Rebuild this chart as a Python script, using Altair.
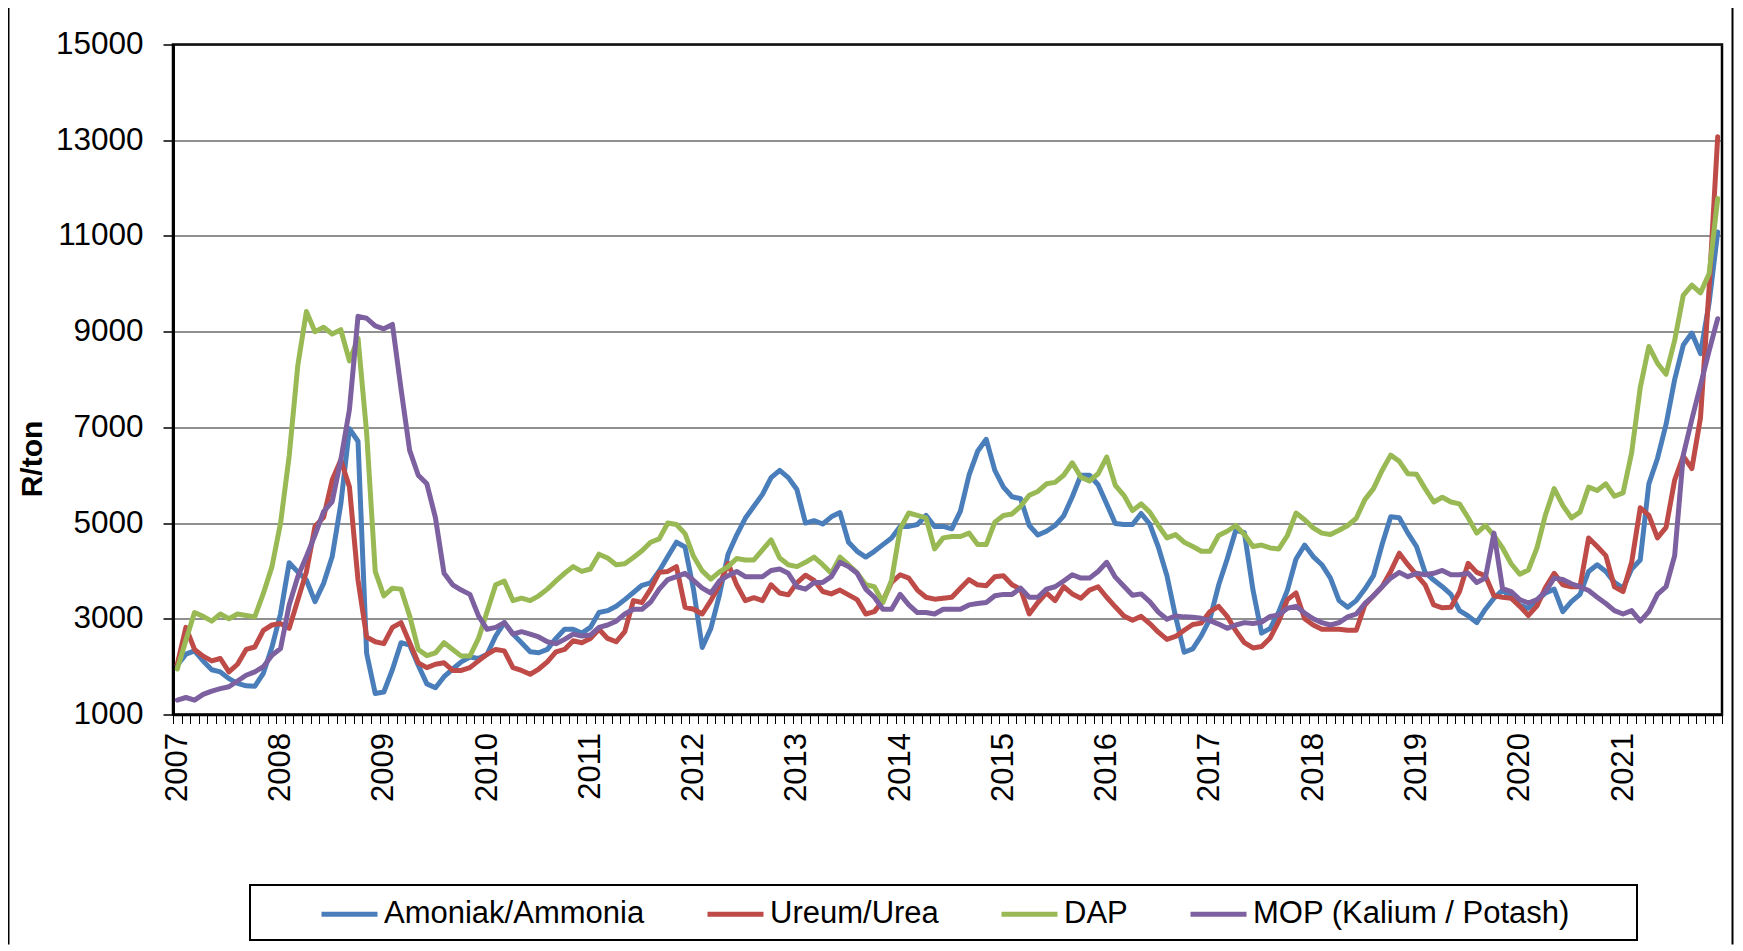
import altair as alt
import pandas as pd

FONT = "Liberation Sans"
start_year = 2007
series_names = ["Amoniak/Ammonia", "Ureum/Urea", "DAP", "MOP (Kalium / Potash)"]
series_colors = ["#4A7EBB", "#BE4B48", "#98B954", "#7D60A0"]
y_ticks = [1000, 3000, 5000, 7000, 9000, 11000, 13000, 15000]

# monthly prices, Jan 2007 .. Dec 2021 (R/ton)
ammonia = [
    2030, 2260, 2330, 2120, 1935, 1890, 1750, 1650, 1600, 1590, 1860, 2410,
    3110, 4170, 3980, 3810, 3360, 3740, 4300, 5400, 6970, 6710, 2280, 1440,
    1470, 1940, 2500, 2450, 2030, 1640, 1560, 1790, 1950, 2100, 2200, 2170,
    2260, 2640, 2920, 2680, 2500, 2310, 2290, 2360, 2590, 2780, 2780, 2700,
    2820, 3130, 3170, 3260, 3400, 3550, 3700, 3750, 4000, 4300, 4600, 4500,
    3600, 2400, 2800, 3500, 4350, 4750, 5100, 5350, 5600, 5950, 6100, 5950,
    5700, 5000, 5050, 4980, 5130, 5220, 4600, 4410, 4290, 4410, 4550, 4690,
    4930, 4930, 4970, 5160, 4930, 4930, 4880, 5250, 6000, 6500, 6750, 6100,
    5750, 5550, 5510, 4950, 4750, 4830, 4950, 5150, 5550, 6000, 6000, 5800,
    5400, 4990, 4970, 4970, 5200, 4980, 4500, 3900, 3050, 2300, 2370, 2650,
    3000, 3700, 4250, 4850, 4800, 3600, 2700, 2800, 3150, 3600, 4250, 4540,
    4300, 4130, 3850, 3380, 3240, 3380, 3620, 3900, 4550, 5130, 5110, 4790,
    4510, 3970, 3810, 3670, 3510, 3170, 3060, 2920, 3200, 3430, 3600, 3440,
    3280, 3220, 3380, 3540, 3620, 3150, 3360, 3510, 3990, 4130, 3990, 3760,
    3640, 4040, 4230, 5820, 6350, 7060, 8000, 8720, 8970, 8540, 9600, 11080,
]
urea = [
    2050, 2820, 2360, 2220, 2120, 2170, 1890, 2050, 2360, 2410, 2760, 2870,
    2900, 2800, 3390, 3980, 4930, 5120, 5900, 6320, 5760, 3810, 2620, 2520,
    2480, 2820, 2920, 2500, 2080, 1980, 2050, 2080, 1920, 1920, 1980, 2120,
    2260, 2360, 2330, 1980, 1920, 1840, 1950, 2100, 2310, 2360, 2540, 2500,
    2590, 2780, 2590, 2520, 2730, 3380, 3340, 3620, 3970, 3990, 4090, 3240,
    3200, 3100, 3380, 3710, 4160, 3710, 3380, 3440, 3380, 3710, 3540, 3500,
    3750, 3910, 3800, 3570, 3520, 3600, 3500, 3400, 3100, 3150, 3380, 3760,
    3920, 3850, 3600, 3450, 3410, 3430, 3450, 3640, 3820, 3710, 3690, 3880,
    3900, 3710, 3620, 3100, 3340, 3540, 3380, 3670, 3520, 3430, 3600, 3670,
    3450, 3250, 3060, 2970, 3050, 2900, 2720, 2570, 2630, 2760, 2880, 2910,
    3150, 3260, 3050, 2750, 2500, 2390, 2420, 2600, 2950, 3400, 3540, 3000,
    2870, 2780, 2780, 2780, 2760, 2760, 3290, 3480, 3670, 3990, 4370, 4130,
    3920, 3710, 3290, 3230, 3240, 3570, 4160, 3970, 3900, 3480, 3450, 3430,
    3260, 3070, 3270, 3660, 3950, 3710, 3670, 3670, 4690, 4510, 4320, 3670,
    3570, 4180, 5320, 5160, 4690, 4910, 5900, 6400, 6140, 7200, 9900, 13070,
]
dap = [
    1950, 2550, 3130, 3050, 2950, 3100, 3000, 3100, 3070, 3040, 3530, 4090,
    5000, 6400, 8290, 9420, 9000, 9090, 8950, 9040, 8390, 8860, 6890, 3990,
    3480, 3640, 3620, 3060, 2360, 2230, 2290, 2500, 2360, 2220, 2220, 2590,
    3150, 3710, 3790, 3380, 3430, 3380, 3480, 3620, 3790, 3950, 4090, 3990,
    4040, 4350, 4270, 4130, 4150, 4280, 4420, 4600, 4670, 5000, 4970, 4780,
    4300, 4000, 3830, 3980, 4090, 4260, 4230, 4230, 4440, 4650, 4270, 4130,
    4090, 4180, 4290, 4130, 3950, 4290, 4130, 3960, 3710, 3670, 3340, 3810,
    4880, 5210, 5160, 5110, 4460, 4690, 4720, 4720, 4790, 4550, 4550, 5020,
    5160, 5190, 5350, 5580, 5660, 5820, 5850, 6000, 6260, 5960, 5880, 6030,
    6380, 5790, 5580, 5260, 5400, 5230, 4950, 4690, 4760, 4600, 4510, 4410,
    4410, 4740, 4830, 4950, 4760, 4510, 4540, 4480, 4460, 4740, 5210, 5070,
    4900, 4790, 4760, 4850, 4950, 5100, 5490, 5720, 6100, 6420, 6290, 6030,
    6020, 5720, 5440, 5540, 5440, 5400, 5110, 4790, 4950, 4740, 4480, 4150,
    3930, 4020, 4480, 5180, 5720, 5370, 5110, 5230, 5750, 5680, 5820, 5560,
    5630, 6470, 7830, 8690, 8340, 8110, 8820, 9760, 9970, 9810, 10210, 11780,
]
mop = [
    1300, 1355, 1300, 1420, 1490, 1540, 1580, 1700, 1820, 1890, 2000, 2240,
    2380, 3290, 3880, 4300, 4750, 5240, 5450, 6320, 7370, 9320, 9280, 9120,
    9060, 9150, 7800, 6520, 6000, 5820, 5110, 3950, 3710, 3600, 3510, 3060,
    2780, 2820, 2920, 2680, 2730, 2680, 2620, 2520, 2480, 2570, 2680, 2640,
    2660, 2820, 2870, 2950, 3100, 3200, 3200, 3350, 3620, 3820, 3880, 3950,
    3800, 3640, 3540, 3790, 3900, 3990, 3880, 3880, 3880, 4010, 4040, 3950,
    3670, 3620, 3760, 3760, 3880, 4180, 4090, 3950, 3620, 3450, 3200, 3200,
    3510, 3290, 3130, 3130, 3100, 3200, 3200, 3200, 3290, 3320, 3340, 3480,
    3510, 3510, 3640, 3450, 3450, 3620, 3670, 3790, 3920, 3850, 3850, 3990,
    4180, 3870, 3680, 3490, 3520, 3360, 3140, 2990, 3060, 3040, 3030, 3010,
    2960, 2890, 2800, 2870, 2920, 2900, 2930, 3050, 3080, 3220, 3260, 3120,
    3000, 2920, 2870, 2920, 3040, 3100, 3320, 3480, 3670, 3850, 3970, 3880,
    3950, 3920, 3950, 4010, 3920, 3920, 3950, 3760, 3850, 4790, 3630, 3570,
    3400, 3330, 3400, 3570, 3850, 3820, 3730, 3670, 3590, 3450, 3320, 3170,
    3100, 3170, 2950, 3150, 3510, 3670, 4320, 6420, 7170, 7880, 8600, 9270,
]

rows = []
for k, (name, vals) in enumerate(zip(series_names, [ammonia, urea, dap, mop])):
    for i, v in enumerate(vals):
        rows.append({"m": i, "series": name, "value": v, "k": k})
df = pd.DataFrame(rows)

n = len(ammonia)
boundaries = [i - 0.5 for i in range(n + 1)]
label_expr = (
    f"((datum.value + 0.5) % 12 == 0 && datum.value < {n - 1}) ? "
    f"'' + ({start_year} + (datum.value + 0.5) / 12) : ''"
)

lines = alt.Chart(df).mark_line(
    strokeWidth=5, strokeJoin="round", strokeCap="round"
).encode(
    x=alt.X(
        "m:Q",
        scale=alt.Scale(domain=[-0.5, n - 0.5], nice=False, zero=False),
        axis=alt.Axis(
            values=boundaries,
            labelExpr=label_expr,
            labelAngle=-90,
            labelOffset=4.3,
            labelPadding=9,
            labelOverlap=False,
            labelBound=False,
            labelFlush=False,
            labelFontSize=31,
            labelFont=FONT,
            labelColor="black",
            tickColor="black",
            tickWidth=1,
            tickSize=9,
            domainColor="black",
            domainWidth=2.5,
            grid=False,
            title=None,
        ),
    ),
    y=alt.Y(
        "value:Q",
        scale=alt.Scale(domain=[1000, 15000], nice=False, zero=False),
        axis=alt.Axis(
            values=y_ticks,
            format="d",
            labelFontSize=31.5,
            labelFont=FONT,
            labelColor="black",
            labelPadding=20,
            tickColor="black",
            tickWidth=1.5,
            tickSize=10,
            domainColor="black",
            domainWidth=3,
            grid=True,
            gridColor="#222222",
            gridWidth=1.2,
            title="R/ton",
            titleFont=FONT,
            titleFontSize=30,
            titleFontWeight="bold",
            titleColor="black",
            titleAngle=270,
            titleAlign="center",
            titleBaseline="middle",
            titleX=-141,
            titleY=414,
        ),
    ),
    color=alt.Color(
        "series:N",
        sort=series_names,
        scale=alt.Scale(domain=series_names, range=series_colors),
        legend=alt.Legend(
            title=None,
            orient="none",
            legendX=146,
            legendY=839,
            direction="horizontal",
            columns=4,
            symbolType="stroke",
            symbolSize=3136,
            symbolStrokeWidth=5,
            labelFont=FONT,
            labelFontSize=31,
            labelColor="black",
            labelOffset=4,
            labelLimit=600,
            columnPadding=52,
            padding=0,
        ),
    ),
    order=alt.Order("k:Q"),
)

deco = pd.DataFrame({"a": [0]})
legend_box = alt.Chart(deco).mark_rect(
    filled=False, stroke="black", strokeWidth=2
).encode(
    x=alt.value(77), x2=alt.value(1464), y=alt.value(840.5), y2=alt.value(895.5)
)
frame_left = alt.Chart(deco).mark_rule(color="black", strokeWidth=2).encode(
    x=alt.value(-164.5), y=alt.value(-36.5), y2=alt.value(900)
)
frame_right = alt.Chart(deco).mark_rule(color="black", strokeWidth=2).encode(
    x=alt.value(1559.5), y=alt.value(-36.5), y2=alt.value(900)
)

chart = alt.layer(lines, legend_box, frame_left, frame_right).properties(
    width=1549,
    height=670,
    autosize=alt.AutoSizeParams(type="none"),
    padding={"left": 165, "top": 36.5, "right": 13, "bottom": 230},
    background="white",
).configure_view(stroke="black", strokeWidth=2.5)

chart.save("out.html", embed_options={"renderer": "svg", "actions": False})
